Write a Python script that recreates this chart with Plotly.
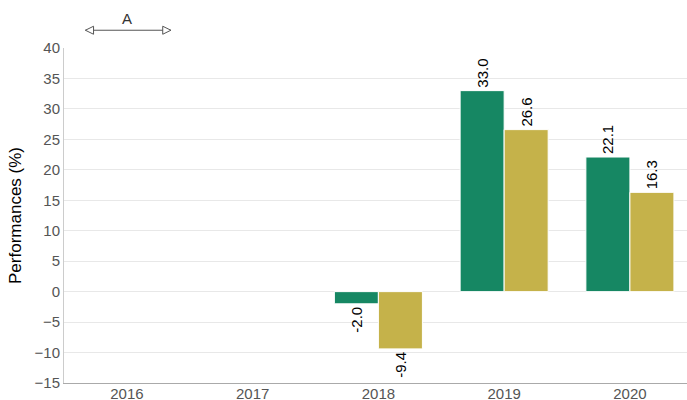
import plotly.graph_objects as go

years = ["2016", "2017", "2018", "2019", "2020"]
series_a = [None, None, -2.0, 33.0, 22.1]
series_b = [None, None, -9.4, 26.6, 16.3]
y_ticks = [-15, -10, -5, 0, 5, 10, 15, 20, 25, 30, 35, 40]

GREEN = "#168763"
GOLD = "#c5b24a"
FONT = "Liberation Sans, Arial, sans-serif"

def labels(vals):
    return ["" if v is None else f"{v:.1f}" for v in vals]

fig = go.Figure()
for vals, col in [(series_a, GREEN), (series_b, GOLD)]:
    fig.add_trace(go.Bar(
        x=years, y=vals, marker=dict(color=col, line=dict(color="white", width=1)),
        text=labels(vals), textposition="outside", textangle=-90,
        textfont=dict(family=FONT, size=15, color="#000000"),
        cliponaxis=False, showlegend=False,
    ))

# annotation "A" with double arrow over 2016
ay = 1.053
fig.add_shape(type="line", xref="x", yref="paper", x0=-0.33, x1=0.35, y0=ay, y1=ay,
              line=dict(color="#555555", width=1))
fig.add_shape(type="path", xref="x", yref="paper",
              path=f"M -0.33 {ay} L -0.265 {ay+0.012} L -0.265 {ay-0.012} Z",
              line=dict(color="#555555", width=1), fillcolor="white")
fig.add_shape(type="path", xref="x", yref="paper",
              path=f"M 0.35 {ay} L 0.285 {ay+0.012} L 0.285 {ay-0.012} Z",
              line=dict(color="#555555", width=1), fillcolor="white")
fig.add_annotation(x=0, y=1.088, xref="x", yref="paper", yanchor="middle", text="A",
                   showarrow=False, font=dict(family=FONT, size=15, color="#333333"))

fig.update_layout(
    width=687, height=400,
    margin=dict(l=64, r=0, t=48, b=17),
    paper_bgcolor="white", plot_bgcolor="white",
    barmode="group", bargap=0.3, bargroupgap=0,
    font=dict(family=FONT),
    xaxis=dict(type="category", range=[-0.5, 4.454], showline=True, linecolor="#aaaaaa",
               linewidth=1, ticks="", showgrid=False, automargin=False,
               ticklabelstandoff=-3,
               tickfont=dict(family=FONT, size=15, color="#555555")),
    yaxis=dict(range=[-15, 40], tickvals=y_ticks, showline=True, linecolor="#cccccc",
               linewidth=1, gridcolor="#e8e8e8", zeroline=True, zerolinecolor="#e8e8e8",
               zerolinewidth=1, automargin=False, ticks="",
               tickfont=dict(family=FONT, size=15, color="#555555"),
               title=dict(text="Performances (%)", standoff=8,
                          font=dict(family=FONT, size=17, color="#000000"))),
)

fig.write_html("out.html", config={"displayModeBar": False})
with open("out.html", encoding="utf-8") as f:
    html = f.read()
html = html.replace("<head>", "<head><style>html,body{margin:0;padding:0;overflow:hidden}</style>", 1)
with open("out.html", "w", encoding="utf-8") as f:
    f.write(html)
